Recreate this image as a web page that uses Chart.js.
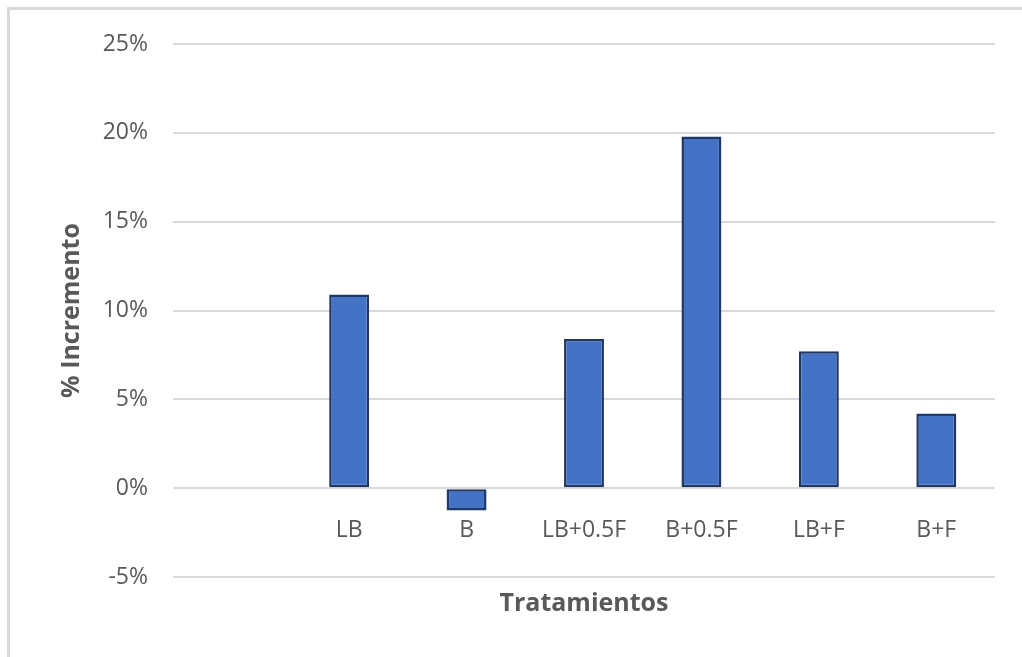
<!DOCTYPE html>
<html>
<head>
<meta charset="utf-8">
<script src="https://cdn.jsdelivr.net/npm/chart.js@4/dist/chart.umd.min.js"></script>
<style>
  html, body { margin: 0; padding: 0; background: #ffffff; }
  #wrap { position: relative; width: 1022px; height: 657px; overflow: hidden; }
  #frame {
    position: absolute; left: 7px; top: 7px; width: 1100px; height: 700px;
    border-left: 3px solid #d9d9d9; border-top: 3px solid #d9d9d9;
    box-sizing: border-box;
  }
  #chart { position: absolute; left: 0; top: 0; }
</style>
</head>
<body>
<div id="wrap">
  <div id="frame"></div>
  <canvas id="chart" width="1022" height="657"></canvas>
</div>
<script>
// Treatments (the first slot is intentionally blank)
const categories = ['', 'LB', 'B', 'LB+0.5F', 'B+0.5F', 'LB+F', 'B+F'];
// Percentage increase per treatment
const increments = [null, 10.9, -1.25, 8.4, 19.8, 7.7, 4.2];
// Value axis range and step, in percent
const yMin = -5;
const yMax = 25;
const yStep = 5;

const textGray = '#595959';
const gridGray = '#d9d9d9';
const baseFont = '"Open Sans", "Noto Sans", sans-serif';

new Chart(document.getElementById('chart'), {
  type: 'bar',
  data: {
    labels: categories,
    datasets: [{
      data: increments,
      xAxisID: 'x',
      yAxisID: 'y',
      backgroundColor: '#4472c4',
      borderColor: '#1f3864',
      borderWidth: 2.5,
      borderSkipped: false,
      categoryPercentage: 1,
      barPercentage: 0.34
    }]
  },
  options: {
    responsive: false,
    animation: false,
    devicePixelRatio: 1,
    layout: { padding: { top: 44, right: 27, left: 0, bottom: 0 } },
    plugins: {
      legend: { display: false },
      tooltip: { enabled: false }
    },
    scales: {
      // category labels sit just under the 0% line
      x: {
        type: 'category',
        position: { y: 0 },
        grid: { display: false },
        border: { display: false },
        ticks: {
          color: textGray,
          font: { family: baseFont, size: 23 },
          padding: 20,
          maxRotation: 0,
          autoSkip: false
        }
      },
      // bottom band carrying the axis title
      x2: {
        type: 'category',
        position: 'bottom',
        grid: { display: false },
        border: { display: false },
        ticks: { display: false },
        title: {
          display: true,
          text: 'Tratamientos',
          color: textGray,
          font: { family: baseFont, size: 25, weight: 'bold' },
          padding: { top: 0, bottom: 38 }
        },
        afterFit: (scale) => { scale.height = 80; }
      },
      y: {
        type: 'linear',
        min: yMin,
        max: yMax,
        border: { display: false },
        grid: { color: gridGray, lineWidth: 2, drawTicks: false },
        ticks: {
          stepSize: yStep,
          color: textGray,
          font: { family: baseFont, size: 23 },
          padding: 25,
          callback: (v) => v + '%'
        },
        title: {
          display: true,
          text: '% Incremento',
          color: textGray,
          font: { family: baseFont, size: 25, weight: 'bold' },
          padding: { top: 57, bottom: 0 }
        },
        afterFit: (scale) => { scale.width = 173; }
      }
    }
  }
});
</script>
</body>
</html>
